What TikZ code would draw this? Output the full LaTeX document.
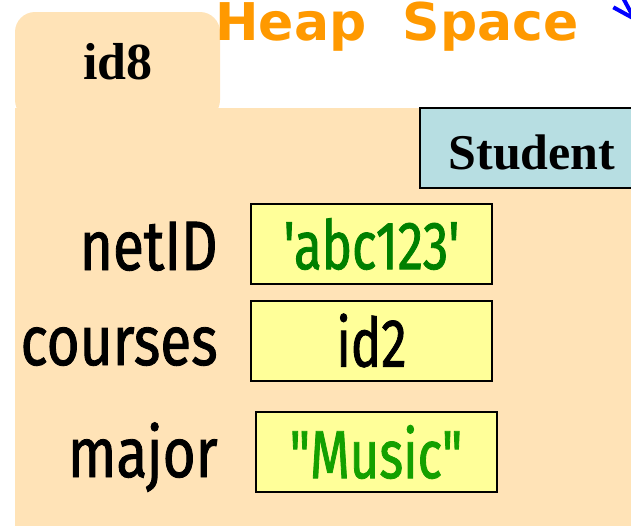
\documentclass[tikz,border=0pt]{standalone}
\usepackage{fontspec}
\setmainfont{Liberation Serif}
\newfontfamily\dinfont[FakeStretch=0.81,FakeBold=1.2]{Fira Sans}
\newfontfamily\valfont[FakeStretch=0.75,FakeBold=1.2]{Fira Sans}
\newfontfamily\headfont{DejaVu Sans}
\usetikzlibrary{arrows.meta,positioning}

\definecolor{heapfill}{RGB}{255,227,183}
\definecolor{classfill}{RGB}{183,222,226}
\definecolor{valfill}{RGB}{255,255,153}
\definecolor{headorange}{RGB}{255,153,0}
\definecolor{strgreen}{RGB}{0,128,0}
\definecolor{musicgreen}{RGB}{20,160,0}

\begin{document}
\begin{tikzpicture}[x=0.5pt,y=-0.5pt,
	objname/.style={font=\fontsize{26}{30}\selectfont\bfseries},
	fieldlabel/.style={anchor=base east,inner sep=0pt,font=\dinfont\fontsize{35}{40}\selectfont},
	valbox/.style={draw=black,line width=1pt,fill=valfill,minimum width=120.5pt,minimum height=40pt,
		inner sep=0pt,font=\valfont\fontsize{34}{38}\selectfont}]
	\useasboundingbox (0,0) rectangle (631,525);
	\clip (0,0) rectangle (631,525);

	% The folder of the object
	\fill[heapfill,rounded corners=10pt] (15,120) -- (15,12) -- (220,12) -- (220,120) -- cycle;
	\fill[heapfill] (15,108) rectangle (650,540);
	\node[objname] (id8) at (118,62) {id8};

	% Title of the heap
	\node[anchor=base west,inner sep=0pt,text=headorange,font=\headfont\fontsize{26}{30}\selectfont\bfseries]
		(heap) at (215,40) {Heap\ \ Space};
	% Arrow coming in from the right
	\coordinate (arrowtail) at (600,-45);
	\coordinate (arrowtip) at (636,22);
	\draw[blue,line width=2pt,-{Straight Barb[length=10pt,width=13pt]}] (arrowtail) -- (arrowtip);

	% The class of the object
	\draw[fill=classfill,line width=1pt] (420,108) rectangle (650,188);
	\node[font=\fontsize{25}{30}\selectfont\bfseries] (cls) at (532,152) {Student};

	% The fields
	\node[valbox,text=strgreen] (netidval) at (371.5,244) {'abc123'};
	\node[valbox] (coursesval) at (371.5,340.5) {id2};
	\node[valbox,text=musicgreen] (majorval) at (376,452) {"Music"};

	\node[fieldlabel] (netid) at (218,270) {netID};
	\node[fieldlabel] (courses) at (218,365) {courses};
	\node[fieldlabel] (major) at (218,477) {major};
\end{tikzpicture}
\end{document}
